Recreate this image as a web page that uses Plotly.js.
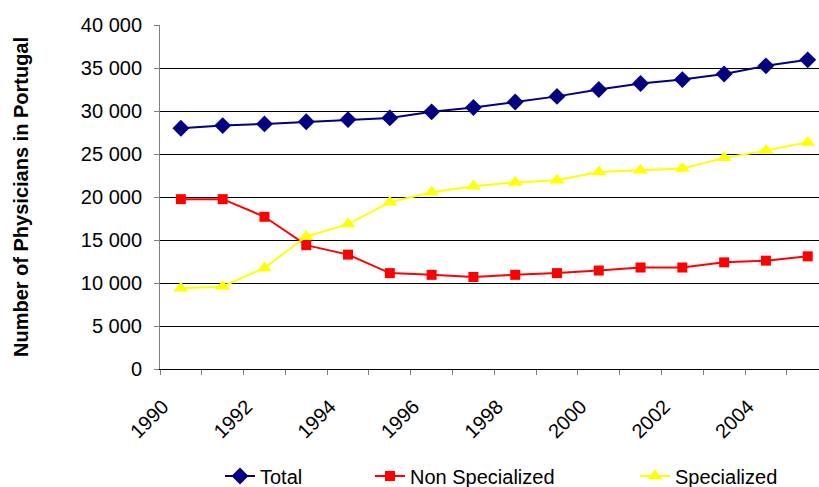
<!DOCTYPE html>
<html>
<head>
<meta charset="utf-8">
<script src="https://cdn.plot.ly/plotly-3.0.1.min.js"></script>
<style>html,body{margin:0;padding:0;background:#fff;overflow:hidden}</style>
</head>
<body>
<div id="chart" style="width:819px;height:487px"></div>
<script>
const years = [1990,1991,1992,1993,1994,1995,1996,1997,1998,1999,2000,2001,2002,2003,2004,2005];
const total = [28000,28300,28500,28750,29000,29200,29900,30400,31050,31700,32500,33200,33650,34300,35250,35950];
const nonSpecialized = [19750,19750,17700,14400,13300,11150,10950,10700,10950,11150,11450,11800,11800,12400,12600,13100];
const specialized = [9400,9600,11750,15400,16850,19400,20550,21250,21700,21950,22900,23100,23300,24550,25400,26350];
const tickYears = [1990,1992,1994,1996,1998,2000,2002,2004];
const tickLabels = ["1990","1992","1994","1996","1998","2000","2002","2004"];
const seriesNames = ["Total","Non Specialized","Specialized"];

const traces = [
  {x: years, y: total, name: seriesNames[0], type: 'scatter', mode: 'lines+markers', legend: 'legend',
   line: {color: '#000080', width: 2}, marker: {symbol: 'diamond', size: 13, color: '#000080'}},
  {x: years, y: nonSpecialized, name: seriesNames[1], type: 'scatter', mode: 'lines+markers', legend: 'legend2',
   line: {color: '#FF0000', width: 2}, marker: {symbol: 'square', size: 10, color: '#FF0000'}},
  {x: years, y: specialized, name: seriesNames[2], type: 'scatter', mode: 'lines+markers', legend: 'legend3',
   line: {color: '#FFFF00', width: 2}, marker: {symbol: 'triangle-up', size: 13, color: '#FFFF00'}}
];

function legendAt(px) {
  return {orientation: 'h', xref: 'container', yref: 'container',
          x: px / 819, xanchor: 'left', y: 11 / 487, yanchor: 'middle',
          font: {size: 20}, bgcolor: 'rgba(0,0,0,0)', borderwidth: 0};
}

const layout = {
  width: 819, height: 487,
  margin: {l: 160, r: 0, t: 25, b: 118},
  paper_bgcolor: '#fff', plot_bgcolor: '#fff',
  separators: ', ',
  font: {family: '"Liberation Sans", Arial, sans-serif', color: '#000', size: 20},
  showlegend: true,
  legend: legendAt(220),
  legend2: legendAt(370),
  legend3: legendAt(635),
  xaxis: {
    range: [1989.5, 2005.27], showgrid: false, zeroline: false,
    showline: true, linecolor: '#000', linewidth: 1,
    tickmode: 'array', tickvals: tickYears, ticktext: tickLabels,
    tickangle: -45, ticks: '', tickfont: {size: 20},
    ticklabelshift: -18, ticklabelstandoff: 17,
    minor: {tickmode: 'linear', tick0: 1989.5, dtick: 1, ticks: 'outside', ticklen: 5, tickcolor: '#808080', showgrid: false}
  },
  yaxis: {
    range: [0, 40000], dtick: 5000, tickformat: ',d',
    showgrid: true, gridcolor: '#000', gridwidth: 1, zeroline: false,
    showline: true, linecolor: '#808080', linewidth: 1,
    ticks: 'outside', ticklen: 5, tickcolor: '#808080', tickfont: {size: 20},
    ticklabelstandoff: 8,
    title: {text: '<b>Number of Physicians in Portugal</b>', font: {size: 20}, standoff: 46}
  }
};

Plotly.newPlot('chart', traces, layout, {displayModeBar: false, staticPlot: true});
</script>
</body>
</html>
